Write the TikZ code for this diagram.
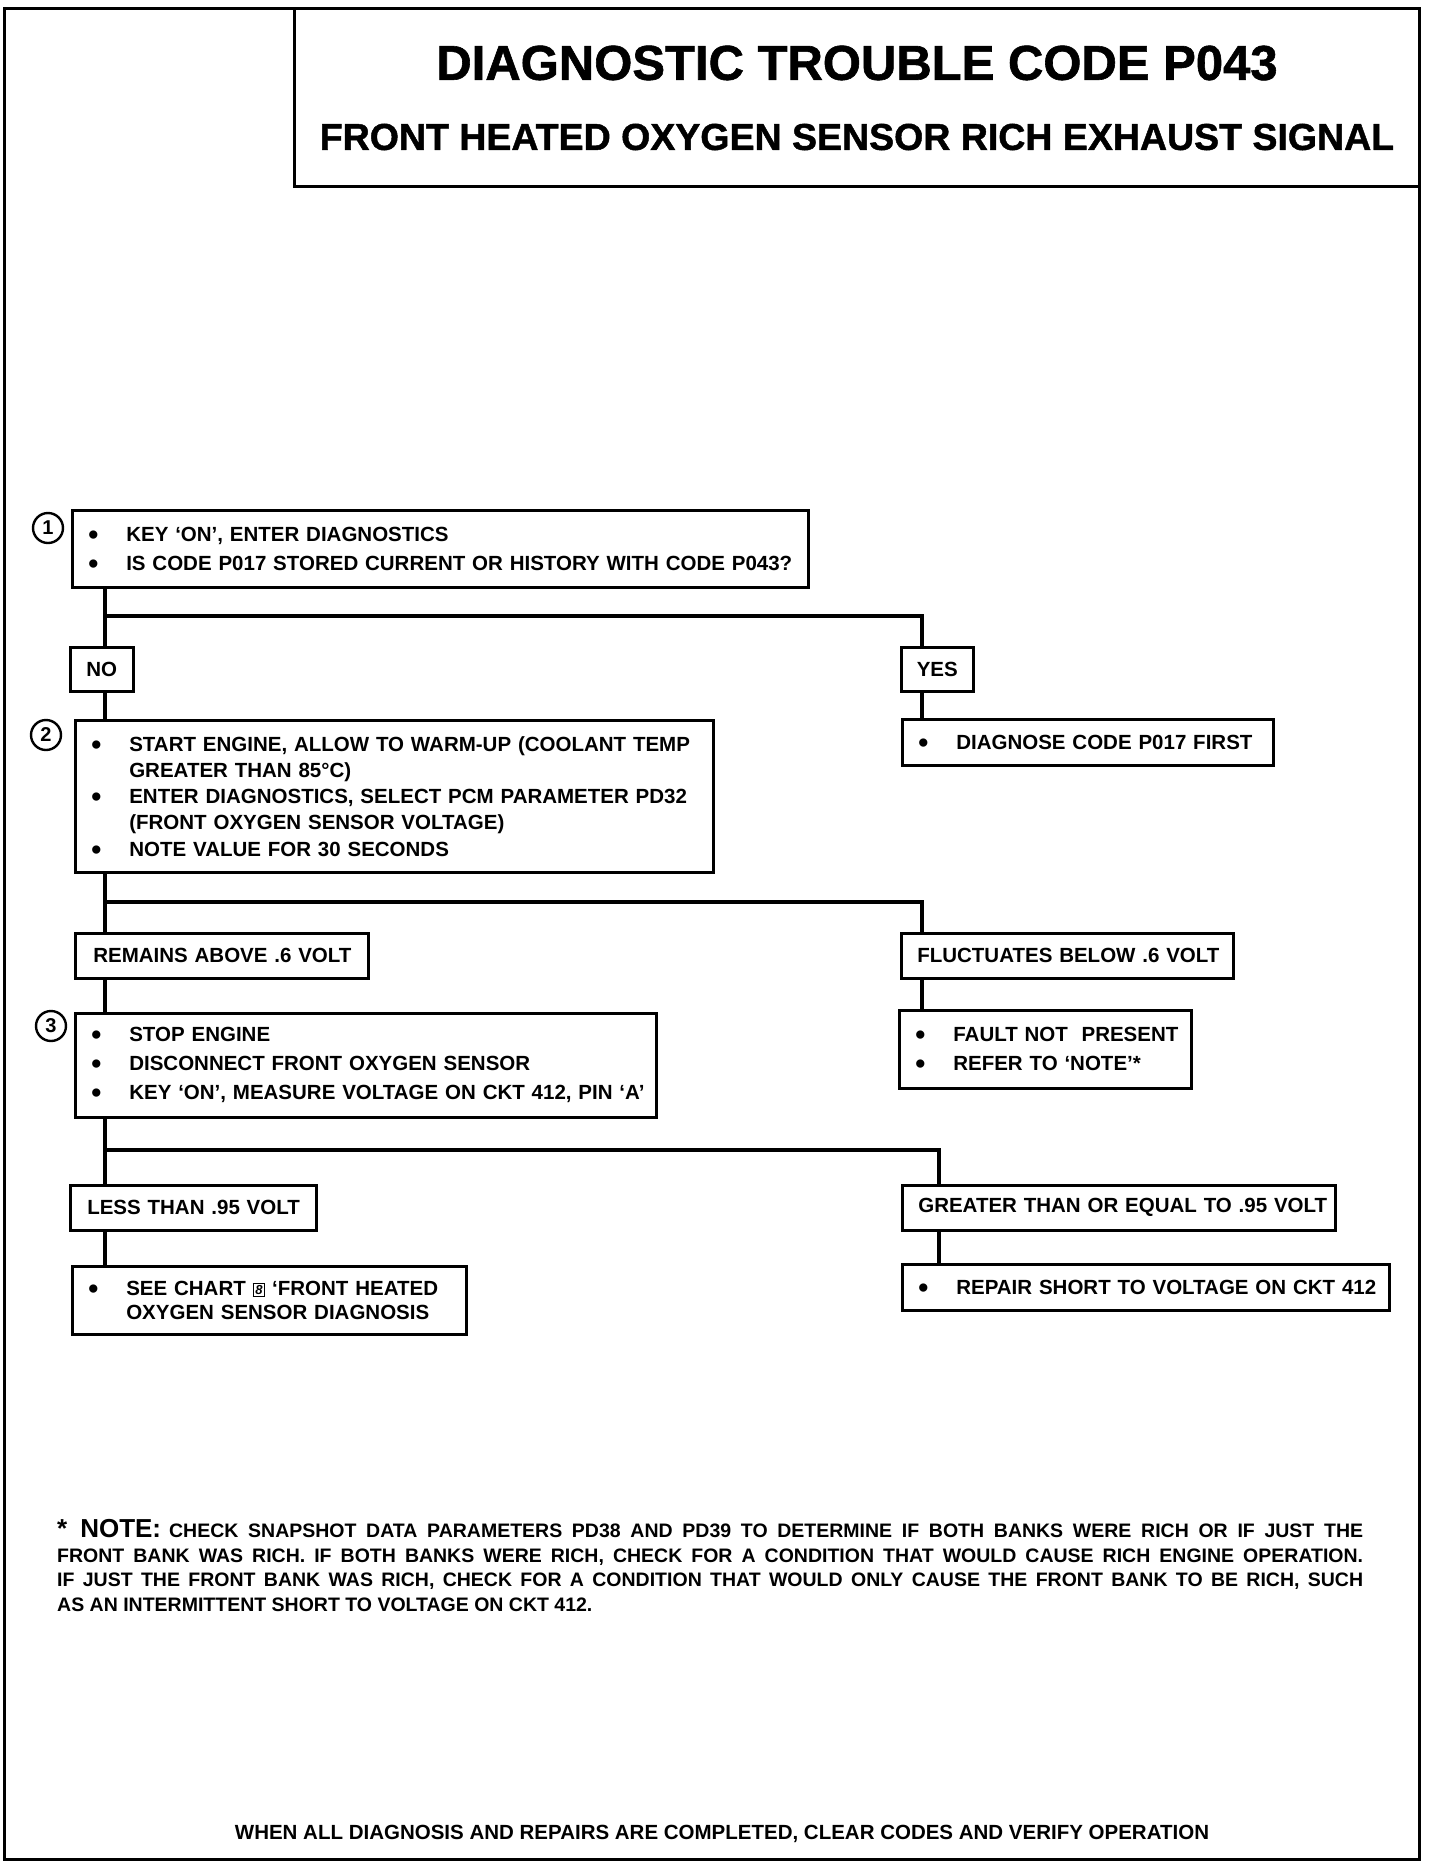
\documentclass[tikz,border=0pt]{standalone}
\usepackage{fontspec}
\setmainfont{Liberation Sans}
\newfontfamily\heavyfont[FakeBold=1.2]{Liberation Sans}
\usepackage{graphicx}
\newcommand\bodyfont{\bfseries\fontsize{20.5}{29}\selectfont}
\newcommand\bi[1]{\makebox[50pt][l]{\hspace{12pt}\smash{\raisebox{-3pt}{\scalebox{1.4}{\textbullet}}}}\mbox{#1}}
\newcommand\ci[1]{\hspace*{50pt}\mbox{#1}}
\begin{document}
\begin{tikzpicture}[x=1pt,y=-1pt,
  bx/.style={draw, line width=2.6pt, anchor=north west, inner xsep=4pt, inner ysep=0pt, align=left, font=\bodyfont},
  lb/.style={draw, line width=2.6pt, anchor=north west, inner xsep=0pt, inner ysep=0pt, align=left, font=\bodyfont},
  conn/.style={line width=3.6pt},
  frame/.style={line width=3pt},
  circ/.style={draw, circle, line width=2.4pt, minimum size=30pt, inner sep=0pt, font=\bfseries\fontsize{20}{20}\selectfont},
  ttl/.style={font=\heavyfont\bfseries\fontsize{#1}{#1}\selectfont, inner sep=0pt},
]
\useasboundingbox (0,0) rectangle (1440,1866);
% frames
\draw[frame] (4,8) rectangle (1419,1859);
\draw[frame] (294,8) rectangle (1419,186);
\node[ttl=49] (t1) at (857,63) {DIAGNOSTIC TROUBLE CODE P043};
\node[ttl=37.5] (t2) at (857,137) {FRONT HEATED OXYGEN SENSOR RICH EXHAUST SIGNAL};

% step 1
\node[circ] (c1) at (48,528) {1};
\node[bx, text width=728pt, minimum height=77pt] (b1) at (71,509)
  {\bi{KEY ‘ON’, ENTER DIAGNOSTICS}\\ \bi{IS CODE P017 STORED CURRENT OR HISTORY WITH CODE P043?}};
\node[lb, text width=63pt, minimum height=44pt, align=center] (no) at (69,646) {NO};
\node[lb, text width=72pt, minimum height=44pt, align=center] (yes) at (900,646) {YES};
\node[bx, text width=363pt, minimum height=46pt] (bd) at (901,718) {\bi{DIAGNOSE CODE P017 FIRST}};

% step 2
\node[circ] (c2) at (46,735) {2};
\node[bx, text width=630pt, minimum height=152pt, font=\bfseries\fontsize{20.5}{26.3}\selectfont] (b2) at (74,719)
  {\bi{START ENGINE, ALLOW TO WARM-UP (COOLANT TEMP}\\ \ci{GREATER THAN 85°C)}\\
   \bi{ENTER DIAGNOSTICS, SELECT PCM PARAMETER PD32}\\ \ci{(FRONT OXYGEN SENSOR VOLTAGE)}\\
   \bi{NOTE VALUE FOR 30 SECONDS}};
\node[lb, text width=293pt, minimum height=45pt] (rem) at (74,932) {\hspace*{18pt}REMAINS ABOVE .6 VOLT};
\node[lb, text width=332pt, minimum height=45pt] (flu) at (900,932) {\hspace*{16pt}FLUCTUATES BELOW .6 VOLT};
\node[bx, text width=284pt, minimum height=78pt] (bf) at (898,1009)
  {\bi{FAULT NOT\ \ PRESENT}\\ \bi{REFER TO ‘NOTE’*}};

% step 3
\node[circ] (c3) at (51,1026) {3};
\node[bx, text width=573pt, minimum height=104pt] (b3) at (74,1012)
  {\bi{STOP ENGINE}\\ \bi{DISCONNECT FRONT OXYGEN SENSOR}\\ \bi{KEY ‘ON’, MEASURE VOLTAGE ON CKT 412, PIN ‘A’}};
\node[lb, text width=246pt, minimum height=45pt] (less) at (69,1184) {\hspace*{17pt}LESS THAN .95 VOLT};
\node[lb, text width=433pt, minimum height=45pt] (gre) at (901,1184) {\hspace*{16pt}\mbox{GREATER THAN OR EQUAL TO .95 VOLT}};
\node[bx, text width=386pt, minimum height=68pt, font=\bfseries\fontsize{20.5}{24.5}\selectfont] (bs) at (71,1265)
  {\bi{SEE CHART {\fboxsep=1.5pt\fboxrule=1.2pt\raisebox{0.5pt}{\fbox{\fontsize{13}{13}\selectfont\itshape 8}}} ‘FRONT HEATED}\\ \ci{OXYGEN SENSOR DIAGNOSIS}};
\node[bx, text width=479pt, minimum height=46pt] (br) at (901,1263) {\bi{REPAIR SHORT TO VOLTAGE ON CKT 412}};

% connectors
\coordinate (xl) at (105,0);
\coordinate (xr) at (922,0);
\coordinate (xq) at (939,0);
\coordinate (j1) at (105,616);
\coordinate (j2) at (105,902);
\coordinate (j3) at (105,1150);
\draw[conn] (b1.south -| xl) -- (no.north -| xl);
\draw[conn] (j1) -| (yes.north -| xr);
\draw[conn] (no.south -| xl) -- (b2.north -| xl);
\draw[conn] (yes.south -| xr) -- (bd.north -| xr);
\draw[conn] (b2.south -| xl) -- (rem.north -| xl);
\draw[conn] (j2) -| (flu.north -| xr);
\draw[conn] (rem.south -| xl) -- (b3.north -| xl);
\draw[conn] (flu.south -| xr) -- (bf.north -| xr);
\draw[conn] (b3.south -| xl) -- (less.north -| xl);
\draw[conn] (j3) -| (gre.north -| xq);
\draw[conn] (less.south -| xl) -- (bs.north -| xl);
\draw[conn] (gre.south -| xq) -- (br.north -| xq);

% note
\node[anchor=north west, text width=1306pt, align=justify, inner sep=0pt,
      font=\bfseries\fontsize{19.5}{24.7}\selectfont] (note) at (57,1519)
  {{\fontsize{26}{24.7}\selectfont * NOTE:}\hspace{8pt}CHECK SNAPSHOT DATA PARAMETERS PD38 AND PD39 TO DETERMINE IF BOTH BANKS WERE RICH OR IF JUST THE\linebreak
   FRONT BANK WAS RICH. IF BOTH BANKS WERE RICH, CHECK FOR A CONDITION THAT WOULD CAUSE RICH ENGINE OPERATION.\linebreak
   IF JUST THE FRONT BANK WAS RICH, CHECK FOR A CONDITION THAT WOULD ONLY CAUSE THE FRONT BANK TO BE RICH, SUCH\linebreak
   AS AN INTERMITTENT SHORT TO VOLTAGE ON CKT 412.};
\node[font=\bfseries\fontsize{20.5}{24}\selectfont, inner sep=0pt] (foot) at (722,1834)
  {WHEN ALL DIAGNOSIS AND REPAIRS ARE COMPLETED, CLEAR CODES AND VERIFY OPERATION};
\end{tikzpicture}
\end{document}
